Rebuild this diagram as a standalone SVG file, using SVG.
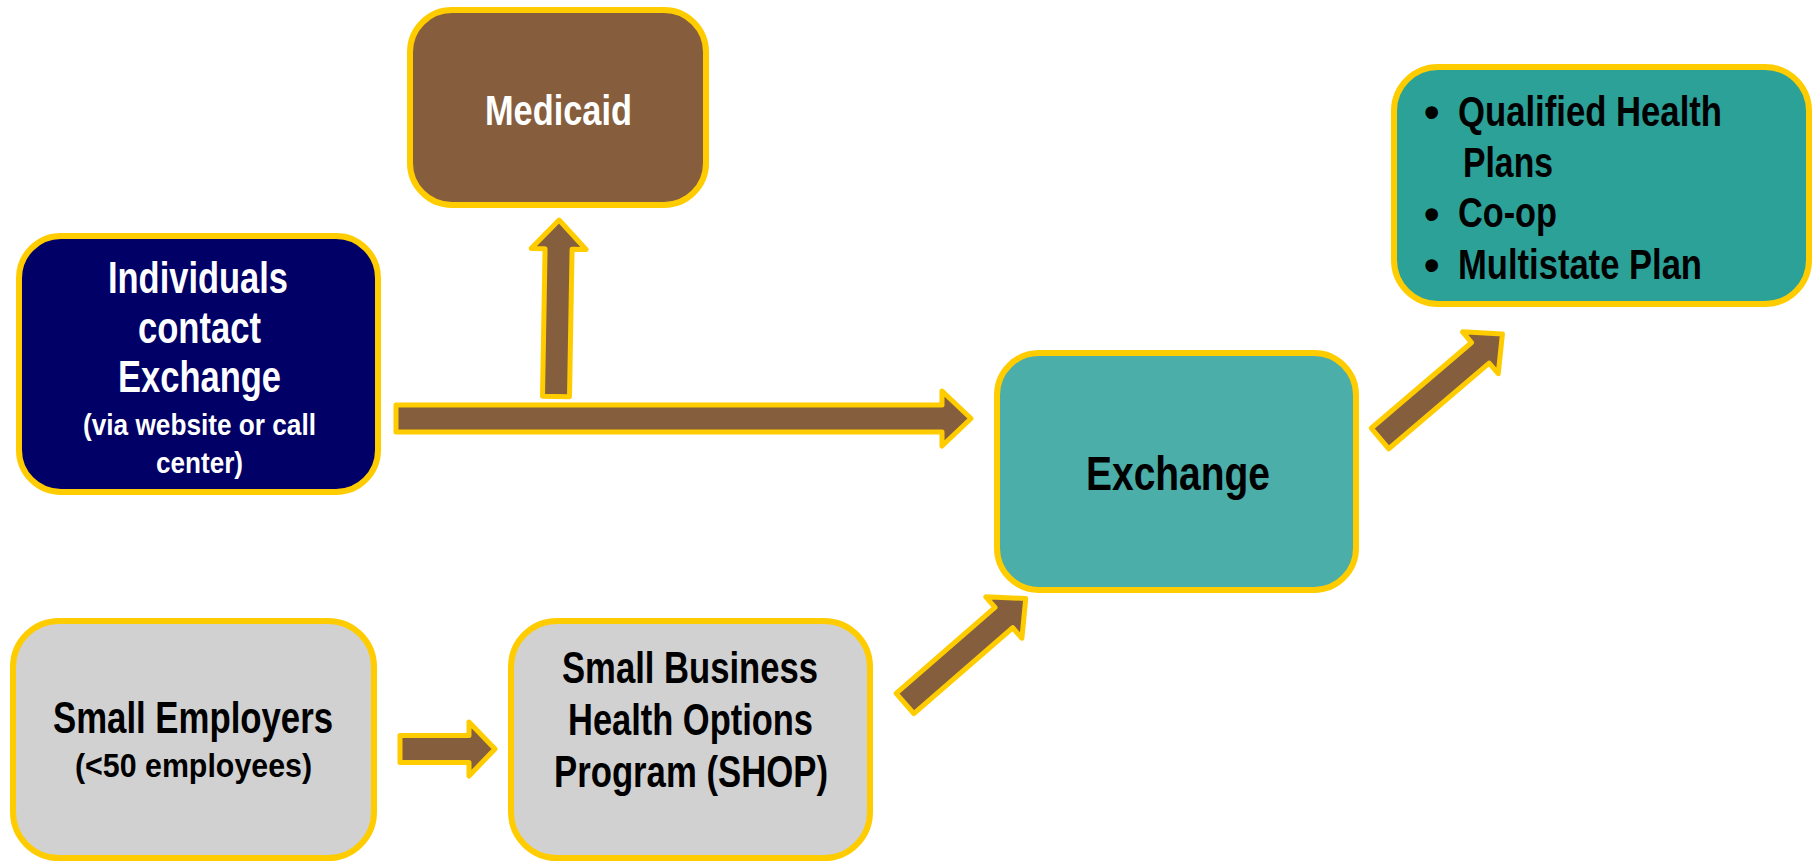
<svg xmlns="http://www.w3.org/2000/svg" width="1814" height="861" viewBox="0 0 1814 861">
<style>
.box{stroke:#FFCC00;stroke-width:6}
.arr{fill:#855E3E;stroke:#FFCC00;stroke-width:5;stroke-linejoin:round}
text{font-family:"Liberation Sans Narrow","Arial Narrow","Liberation Sans",Arial,sans-serif;font-weight:bold}
.w{fill:#FFFFFF}
.k{fill:#000000}
</style>
<rect width="1814" height="861" fill="#FFFFFF"/>
<g id="connectors">
<polygon class="arr" points="396,405 942,405 942,391 971,418.5 942,446 942,432 396,432"/>
<polygon class="arr" points="542.5,396.5 542.5,249 528.5,249 556,220 583.5,249 569.5,249 569.5,396.5" transform="rotate(1 556 396.5)"/>
<polygon class="arr" points="400,735.5 469,735.5 469,722 495,749 469,776 469,762.5 400,762.5"/>
<polygon class="arr" points="0,-13.5 131,-13.5 131,-27.5 160,0 131,27.5 131,13.5 0,13.5" transform="translate(905 703.5) rotate(-41)"/>
<polygon class="arr" points="0,-13.5 132,-13.5 132,-27.5 161,0 132,27.5 132,13.5 0,13.5" transform="translate(1380 438.5) rotate(-40.5)"/>
</g>
<g id="medicaid">
<rect class="box" x="410" y="10" width="296" height="195" rx="42" ry="42" fill="#865D3D"/>
<text class="w" x="485" y="125" font-size="43" textLength="147" lengthAdjust="spacingAndGlyphs">Medicaid</text>
</g>
<g id="individuals">
<rect class="box" x="19" y="236" width="359" height="256" rx="42" ry="42" fill="#000066"/>
<text class="w" x="108" y="293" font-size="45" textLength="180" lengthAdjust="spacingAndGlyphs">Individuals</text>
<text class="w" x="138" y="343" font-size="45" textLength="123" lengthAdjust="spacingAndGlyphs">contact</text>
<text class="w" x="118" y="392" font-size="45" textLength="163" lengthAdjust="spacingAndGlyphs">Exchange</text>
<text class="w" x="83" y="435" font-size="29" textLength="233" lengthAdjust="spacingAndGlyphs">(via website or call</text>
<text class="w" x="156" y="473" font-size="29" textLength="87" lengthAdjust="spacingAndGlyphs">center)</text>
</g>
<g id="exchange">
<rect class="box" x="997" y="353" width="359" height="237" rx="42" ry="42" fill="#4BAEA8"/>
<text class="k" x="1086" y="490" font-size="49" textLength="184" lengthAdjust="spacingAndGlyphs">Exchange</text>
</g>
<g id="plans">
<rect class="box" x="1394" y="67" width="415" height="237" rx="44" ry="44" fill="#2BA198"/>
<text class="k" x="1424" y="127" font-size="44">•</text>
<text class="k" x="1458" y="126" font-size="42" textLength="264" lengthAdjust="spacingAndGlyphs">Qualified Health</text>
<text class="k" x="1463" y="177" font-size="42" textLength="90" lengthAdjust="spacingAndGlyphs">Plans</text>
<text class="k" x="1424" y="229" font-size="44">•</text>
<text class="k" x="1458" y="227" font-size="42" textLength="99" lengthAdjust="spacingAndGlyphs">Co-op</text>
<text class="k" x="1424" y="280" font-size="44">•</text>
<text class="k" x="1458" y="279" font-size="42" textLength="244" lengthAdjust="spacingAndGlyphs">Multistate Plan</text>
</g>
<g id="small-employers">
<rect class="box" x="13" y="621" width="361" height="237" rx="46" ry="46" fill="#D1D1D1"/>
<text class="k" x="53" y="733" font-size="44" textLength="280" lengthAdjust="spacingAndGlyphs">Small Employers</text>
<text class="k" x="75" y="777" font-size="34" textLength="237" lengthAdjust="spacingAndGlyphs">(&lt;50 employees)</text>
</g>
<g id="shop">
<rect class="box" x="511" y="621" width="359" height="237" rx="46" ry="46" fill="#D1D1D1"/>
<text class="k" x="562" y="683" font-size="44" textLength="256" lengthAdjust="spacingAndGlyphs">Small Business</text>
<text class="k" x="568" y="735" font-size="44" textLength="245" lengthAdjust="spacingAndGlyphs">Health Options</text>
<text class="k" x="554" y="787" font-size="44" textLength="274" lengthAdjust="spacingAndGlyphs">Program (SHOP)</text>
</g>
</svg>
